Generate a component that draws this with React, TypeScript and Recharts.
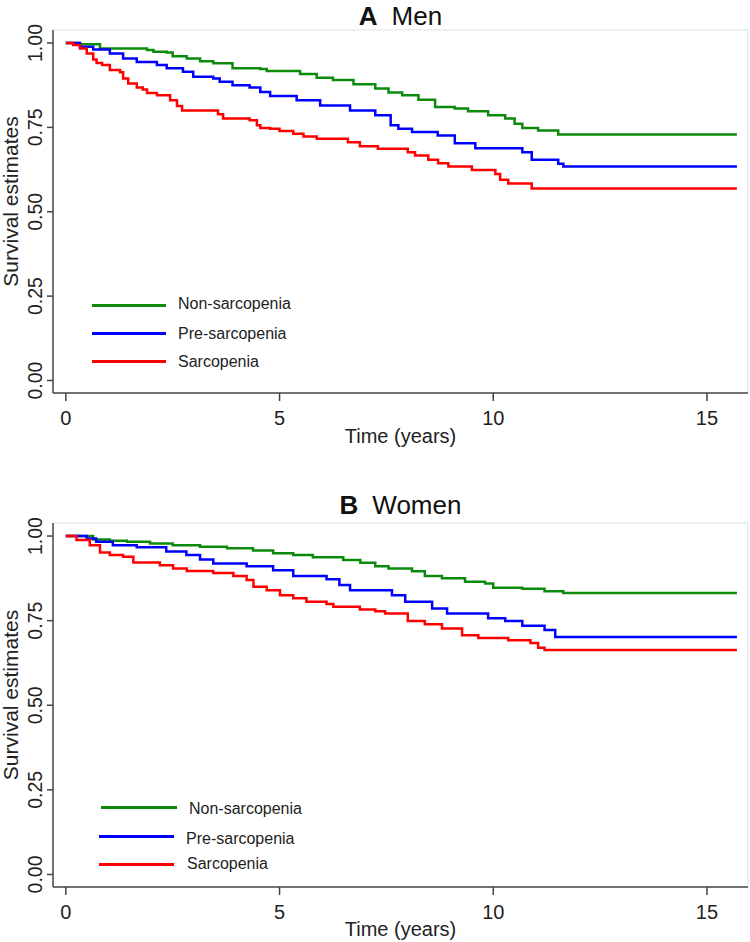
import React from "react"
import { LineChart, Line, XAxis, YAxis, ReferenceLine, Label } from "recharts"

// Kaplan-Meier step points (time in years, survival estimate)
const menNonTime = [0, 0.33, 0.8, 1.9, 2.05, 2.36, 2.5, 2.83, 3.14, 3.45, 3.9, 4.55, 4.7, 5.48, 5.87, 6.25, 6.73, 7.24, 7.55, 7.87, 8.25, 8.64, 9.1, 9.41, 9.88, 10.28, 10.5, 10.68, 11.05, 11.52, 15.7]
const menNonSurv = [1, 0.996, 0.984, 0.979, 0.974, 0.972, 0.961, 0.954, 0.946, 0.94, 0.925, 0.923, 0.917, 0.908, 0.897, 0.89, 0.878, 0.865, 0.853, 0.845, 0.832, 0.81, 0.806, 0.798, 0.786, 0.776, 0.761, 0.748, 0.741, 0.729, 0.729]

const menPreTime = [0, 0.33, 0.64, 1.03, 1.34, 1.66, 2.13, 2.36, 2.74, 2.98, 3.45, 3.6, 3.9, 4.3, 4.55, 4.78, 5.4, 5.95, 6.65, 7.24, 7.6, 7.78, 8.1, 8.7, 9.1, 9.58, 10.68, 10.9, 11.52, 11.64, 15.7]
const menPreSurv = [1, 0.989, 0.981, 0.969, 0.954, 0.944, 0.935, 0.925, 0.915, 0.9, 0.895, 0.885, 0.875, 0.868, 0.855, 0.843, 0.83, 0.815, 0.8, 0.786, 0.756, 0.746, 0.736, 0.726, 0.703, 0.688, 0.676, 0.654, 0.642, 0.634, 0.634]

const menSarTime = [0, 0.17, 0.33, 0.49, 0.64, 0.72, 0.85, 1.03, 1.27, 1.34, 1.46, 1.66, 1.8, 1.9, 2.13, 2.44, 2.6, 2.72, 3.56, 3.68, 4.3, 4.47, 4.55, 4.78, 5.0, 5.32, 5.56, 5.87, 6.6, 6.88, 7.3, 8.0, 8.17, 8.48, 8.71, 8.95, 9.5, 10.05, 10.16, 10.35, 10.9, 15.7]
const menSarSurv = [1, 0.994, 0.984, 0.969, 0.951, 0.941, 0.935, 0.92, 0.913, 0.895, 0.88, 0.868, 0.862, 0.852, 0.845, 0.83, 0.813, 0.8, 0.789, 0.776, 0.771, 0.756, 0.748, 0.746, 0.739, 0.731, 0.723, 0.716, 0.706, 0.694, 0.687, 0.676, 0.667, 0.654, 0.644, 0.634, 0.624, 0.612, 0.595, 0.584, 0.569, 0.569]

const womenNonTime = [0, 0.64, 1.03, 1.43, 1.97, 2.5, 3.14, 3.77, 4.38, 4.85, 5.32, 5.78, 6.49, 6.89, 7.24, 7.55, 8.1, 8.4, 8.8, 9.34, 9.81, 10.0, 10.68, 11.2, 11.64, 15.7]
const womenNonSurv = [1, 0.99, 0.986, 0.983, 0.978, 0.973, 0.968, 0.964, 0.957, 0.949, 0.944, 0.937, 0.929, 0.921, 0.911, 0.904, 0.896, 0.882, 0.875, 0.865, 0.86, 0.847, 0.844, 0.837, 0.832, 0.832]

const womenPreTime = [0, 0.49, 0.71, 1.1, 1.66, 2.35, 2.82, 3.14, 3.45, 4.23, 4.85, 5.32, 6.1, 6.4, 6.65, 7.63, 7.94, 8.57, 8.92, 9.88, 10.28, 10.68, 11.2, 11.45, 15.7]
const womenPreSurv = [1, 0.993, 0.983, 0.973, 0.967, 0.954, 0.944, 0.931, 0.919, 0.911, 0.899, 0.882, 0.872, 0.855, 0.84, 0.825, 0.806, 0.786, 0.771, 0.757, 0.749, 0.735, 0.722, 0.702, 0.702]

const womenSarTime = [0, 0.25, 0.56, 0.8, 1.03, 1.34, 1.58, 2.2, 2.51, 2.83, 3.45, 3.92, 4.23, 4.39, 4.7, 5.01, 5.32, 5.63, 6.1, 6.26, 6.88, 7.24, 7.47, 8.0, 8.4, 8.8, 9.27, 9.65, 10.35, 10.87, 11.05, 11.2, 15.7]
const womenSarSurv = [1, 0.988, 0.973, 0.951, 0.944, 0.939, 0.922, 0.914, 0.904, 0.897, 0.891, 0.882, 0.87, 0.85, 0.84, 0.825, 0.816, 0.806, 0.799, 0.791, 0.783, 0.778, 0.771, 0.749, 0.739, 0.727, 0.707, 0.699, 0.692, 0.684, 0.67, 0.663, 0.663]

const groups = ["Non-sarcopenia", "Pre-sarcopenia", "Sarcopenia"]
const xTicks = [0, 5, 10, 15]
const yTicks = [0, 0.25, 0.5, 0.75, 1]

const colors = ["#0c8a0c", "#0000ff", "#ff0000"]
const X_DOMAIN: [number, number] = [-0.3, 15.96]
const Y_DOMAIN: [number, number] = [-0.037, 1.0385]
const FONT = "'Liberation Sans', Arial, sans-serif"

const toPoints = (t: number[], s: number[]) => t.map((v, i) => ({ t: v, s: s[i] }))

const menSeries = [toPoints(menNonTime, menNonSurv), toPoints(menPreTime, menPreSurv), toPoints(menSarTime, menSarSurv)]
const womenSeries = [toPoints(womenNonTime, womenNonSurv), toPoints(womenPreTime, womenPreSurv), toPoints(womenSarTime, womenSarSurv)]

function YTick(props: any) {
    const { y, payload } = props
    const xb = 42
    return (
        <text x={xb} y={y} transform={`rotate(-90 ${xb} ${y})`} textAnchor="middle" fontSize={19.5} fontFamily={FONT} fill="#222">
            {Number(payload.value).toFixed(2)}
        </text>
    )
}

function XTick(props: any) {
    const { x, y, payload } = props
    return (
        <text x={x} y={y + 22} textAnchor="middle" fontSize={20} fontFamily={FONT} fill="#222">
            {payload.value}
        </text>
    )
}

type PanelProps = {
    series: { t: number; s: number }[][]
    height: number
    top: number
    axisHeight: number
    xTitleDy: number
}

function Panel({ series, height, top, axisHeight, xTitleDy }: PanelProps) {
    return (
        <LineChart width={750} height={height} margin={{ top, right: 2, left: 0, bottom: 0 }}>
            <XAxis
                type="number"
                dataKey="t"
                domain={X_DOMAIN}
                allowDataOverflow
                ticks={xTicks}
                height={axisHeight}
                tickSize={8}
                tickMargin={2}
                stroke="#444"
                strokeWidth={1.5}
                tick={<XTick />}
            >
                <Label
                    content={(p: any) => (
                        <text x={p.viewBox.x + p.viewBox.width / 2} y={p.viewBox.y + xTitleDy} textAnchor="middle" fontSize={20} fontFamily={FONT} fill="#222">
                            Time (years)
                        </text>
                    )}
                />
            </XAxis>
            <YAxis
                type="number"
                domain={Y_DOMAIN}
                allowDataOverflow
                ticks={yTicks}
                width={53}
                tickSize={6}
                stroke="#444"
                strokeWidth={1.5}
                tick={<YTick />}
            >
                <Label
                    content={(p: any) => {
                        const cy = p.viewBox.y + p.viewBox.height / 2 - 10
                        return (
                            <text x={18} y={cy} transform={`rotate(-90 18 ${cy})`} textAnchor="middle" fontSize={21} fontFamily={FONT} fill="#222">
                                Survival estimates
                            </text>
                        )
                    }}
                />
            </YAxis>
            <ReferenceLine x={X_DOMAIN[1]} stroke="#e3eef0" strokeWidth={1.5} />
            <ReferenceLine y={Y_DOMAIN[1]} stroke="#e3eef0" strokeWidth={1.5} />
            {series.map((d, i) => (
                <Line
                    key={groups[i]}
                    data={d}
                    dataKey="s"
                    name={groups[i]}
                    type="stepAfter"
                    stroke={colors[i]}
                    strokeWidth={2.5}
                    dot={false}
                    isAnimationActive={false}
                />
            ))}
        </LineChart>
    )
}

type LegendPos = { x1: number; x2: number; y: number; tx: number; ty: number }

function KMLegend({ items }: { items: LegendPos[] }) {
    return (
        <>
            {items.map((it, i) => (
                <React.Fragment key={groups[i]}>
                    <div style={{ position: "absolute", left: it.x1, top: it.y - 1.5, width: it.x2 - it.x1, height: 3, background: colors[i] }} />
                    <div style={{ position: "absolute", left: it.tx, top: it.ty - 10, height: 20, lineHeight: "20px", fontSize: 16, fontFamily: FONT, color: "#222", whiteSpace: "nowrap" }}>
                        {groups[i]}
                    </div>
                </React.Fragment>
            ))}
        </>
    )
}

function Title({ letter, text, top }: { letter: string; text: string; top: number }) {
    return (
        <div style={{ position: "absolute", left: 53, width: 695, top, textAlign: "center", fontSize: 26, fontFamily: FONT, color: "#111" }}>
            <b style={{ marginRight: 14 }}>{letter}</b>
            {text}
        </div>
    )
}

export default function App() {
    return (
        <div style={{ position: "absolute", left: 0, top: 0, width: 750, height: 942, background: "#fff" }}>
            <div style={{ position: "absolute", left: 0, top: 0 }}>
                <Panel series={menSeries} height={460} top={30} axisHeight={67} xTitleDy={50} />
            </div>
            <div style={{ position: "absolute", left: 0, top: 460 }}>
                <Panel series={womenSeries} height={482} top={63} axisHeight={55} xTitleDy={49} />
            </div>
            <Title letter="A" text="Men" top={0.5} />
            <Title letter="B" text="Women" top={489.5} />
            <KMLegend
                items={[
                    { x1: 92, x2: 166, y: 305, tx: 178, ty: 304 },
                    { x1: 92, x2: 166, y: 333, tx: 178, ty: 334 },
                    { x1: 92, x2: 166, y: 361, tx: 178, ty: 362 },
                ]}
            />
            <KMLegend
                items={[
                    { x1: 101, x2: 177, y: 807, tx: 189, ty: 809 },
                    { x1: 99, x2: 174, y: 836, tx: 186, ty: 839 },
                    { x1: 99, x2: 174, y: 864, tx: 187, ty: 864 },
                ]}
            />
        </div>
    )
}
